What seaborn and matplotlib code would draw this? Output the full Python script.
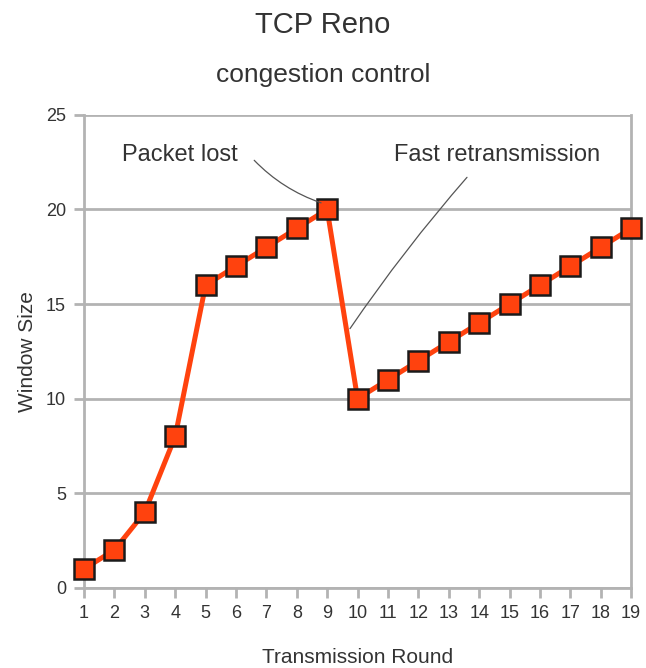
import matplotlib
matplotlib.use("Agg")
import matplotlib.pyplot as plt
import seaborn as sns
import pandas as pd

rounds = list(range(1, 20))
window = [1, 2, 4, 8, 16, 17, 18, 19, 20, 10, 11, 12, 13, 14, 15, 16, 17, 18, 19]
y_ticks = [0, 5, 10, 15, 20, 25]

df = pd.DataFrame({"Transmission Round": rounds, "Window Size": window})

sns.set_style("white")
plt.rcParams['font.family'] = ['Liberation Sans', 'DejaVu Sans']

grey = "#b3b3b3"
txt = "#333333"

fig = plt.figure(figsize=(6.46, 6.68), dpi=100)
ax = fig.add_axes([0.130, 0.120, 0.847, 0.708])

sns.lineplot(data=df, x="Transmission Round", y="Window Size", ax=ax,
             color="#ff420e", linewidth=3.6, marker="s", markersize=14,
             markerfacecolor="#ff420e", markeredgecolor="#1a1a1a",
             markeredgewidth=1.8, zorder=3, clip_on=False)

ax.set_xlim(1, 19)
ax.set_ylim(0, 25)
ax.set_xticks(rounds)
ax.set_yticks(y_ticks)
ax.yaxis.grid(True, color=grey, linewidth=2)
ax.xaxis.grid(False)
for side in ["left", "right", "bottom", "top"]:
    ax.spines[side].set_color(grey)
    ax.spines[side].set_linewidth(2)
ax.spines["top"].set_visible(False)
ax.tick_params(axis="both", colors=grey, length=7, width=2, direction="out",
               labelcolor=txt, labelsize=13, bottom=True, left=True)
ax.tick_params(axis="x", pad=5)
ax.tick_params(axis="y", pad=6)

ax.set_xlabel("Transmission Round", fontsize=15, color=txt, labelpad=19)
ax.set_ylabel("Window Size", fontsize=15, color=txt, labelpad=6)

fig.text(0.5, 0.962, "TCP Reno", ha="center", va="center", fontsize=21, color=txt)
fig.text(0.5, 0.888, "congestion control", ha="center", va="center", fontsize=19, color=txt)

# annotation texts and their leader lines
ax.text(4.15, 22.9, "Packet lost", fontsize=17, color=txt, ha="center", va="center")
ax.text(14.6, 22.9, "Fast retransmission", fontsize=17, color=txt, ha="center", va="center")
ax.annotate("", xy=(8.8, 20.35), xytext=(6.6, 22.6),
            arrowprops=dict(arrowstyle="-", color="#555555", linewidth=0.9,
                            shrinkA=0, shrinkB=0,
                            connectionstyle="arc3,rad=0.12"))
ax.annotate("", xy=(9.75, 13.7), xytext=(13.6, 21.7),
            arrowprops=dict(arrowstyle="-", color="#555555", linewidth=0.9,
                            shrinkA=0, shrinkB=0,
                            connectionstyle="arc3,rad=0.03"))

fig.savefig("out.png", dpi=100)
